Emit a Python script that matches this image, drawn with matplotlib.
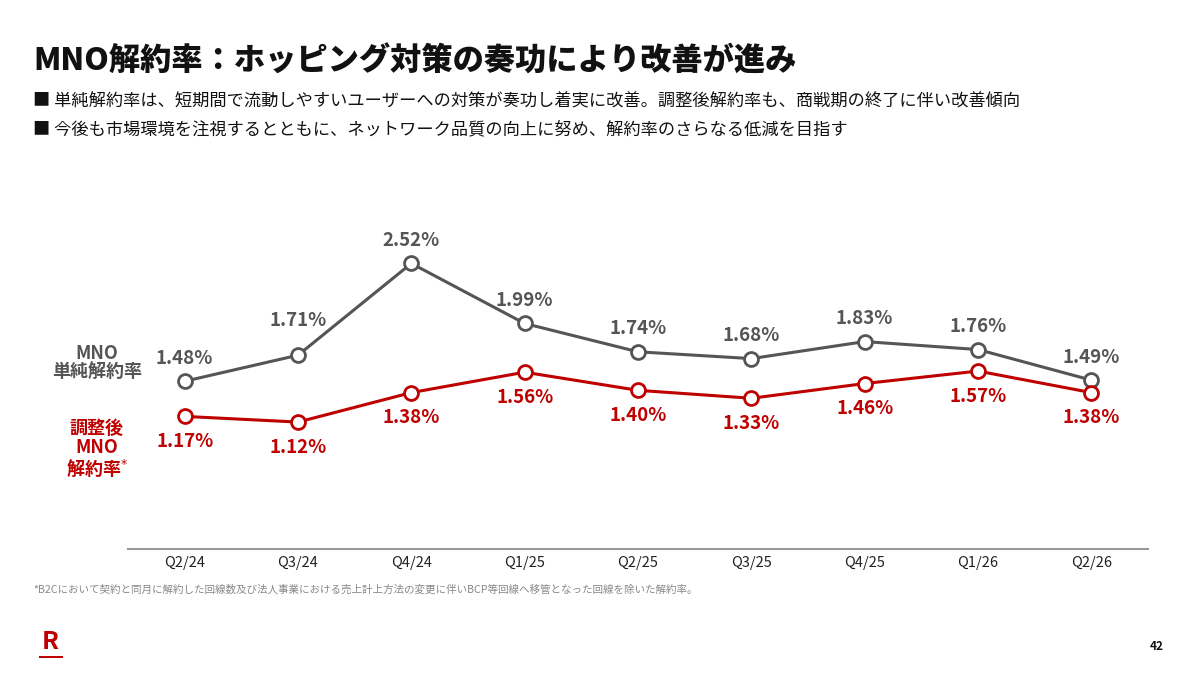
import matplotlib.pyplot as plt
from matplotlib.patches import Rectangle

plt.rcParams['font.family'] = ['Noto Sans CJK JP', 'DejaVu Sans']

# Data
quarters = ['Q2/24', 'Q3/24', 'Q4/24', 'Q1/25', 'Q2/25', 'Q3/25', 'Q4/25', 'Q1/26', 'Q2/26']
simple_rate = [1.48, 1.71, 2.52, 1.99, 1.74, 1.68, 1.83, 1.76, 1.49]
adjusted_rate = [1.17, 1.12, 1.38, 1.56, 1.40, 1.33, 1.46, 1.57, 1.38]

GRAY = '#555555'
RED = '#bf0000'

fig = plt.figure(figsize=(12, 6.75), dpi=100)
fig.patch.set_facecolor('white')

# Title and bullet lines
fig.text(33 / 1200, 1 - 61 / 675, 'MNO解約率：ホッピング対策の奏功により改善が進み',
         fontsize=22.5, fontweight='heavy', color='#111111', va='center', ha='left')
fig.text(33 / 1200, 1 - 101 / 675,
         '■ 単純解約率は、短期間で流動しやすいユーザーへの対策が奏功し着実に改善。調整後解約率も、商戦期の終了に伴い改善傾向',
         fontsize=12.4, color='#111111', va='center', ha='left')
fig.text(33 / 1200, 1 - 129 / 675,
         '■ 今後も市場環境を注視するとともに、ネットワーク品質の向上に努め、解約率のさらなる低減を目指す',
         fontsize=12.4, color='#111111', va='center', ha='left')

# Chart area
ax = fig.add_axes([128 / 1200, (675 - 549) / 675, 1020 / 1200, 340 / 675])
x = list(range(len(quarters)))

ax.plot(x, simple_rate, color=GRAY, lw=2.2, marker='o', markersize=10,
        markerfacecolor='white', markeredgecolor=GRAY, markeredgewidth=2, zorder=3)
ax.plot(x, adjusted_rate, color=RED, lw=2.2, marker='o', markersize=10,
        markerfacecolor='white', markeredgecolor=RED, markeredgewidth=2, zorder=3)

for i, v in enumerate(simple_rate):
    dy = 35 if i == 1 else 23
    ax.annotate(f'{v:.2f}%', (i, v), xytext=(0, dy), textcoords='offset pixels',
                ha='center', va='center', fontsize=13.5, fontweight='bold', color=GRAY)
for i, v in enumerate(adjusted_rate):
    ax.annotate(f'{v:.2f}%', (i, v), xytext=(0, -25), textcoords='offset pixels',
                ha='center', va='center', fontsize=13.5, fontweight='bold', color=RED)

ax.set_xlim(-0.5, 8.5)
ax.set_ylim(0, 3.0)
ax.set_xticks(x)
ax.set_xticklabels(quarters, fontsize=10.5, color='#222222')
ax.tick_params(axis='x', length=0, pad=5)
ax.set_yticks([])
for side in ['top', 'right', 'left']:
    ax.spines[side].set_visible(False)
ax.spines['bottom'].set_color('#999999')
ax.spines['bottom'].set_linewidth(1.5)

# Series labels on the left
fig.text(97 / 1200, 1 - 363 / 675, 'MNO\n単純解約率', fontsize=13, fontweight='bold',
         color=GRAY, ha='center', va='center', linespacing=1.05)
fig.text(97 / 1200, 1 - 449 / 675, '調整後\nMNO\n解約率$^{*}$', fontsize=13, fontweight='bold',
         color=RED, ha='center', va='center', linespacing=1.05)

# Footnote
fig.text(33 / 1200, 1 - 590 / 675,
         '*B2Cにおいて契約と同月に解約した回線数及び法人事業における売上計上方法の変更に伴いBCP等回線へ移管となった回線を除いた解約率。',
         fontsize=7.6, color='#888888', ha='left', va='center')

# Page number and logo
fig.text(1157 / 1200, 1 - 647 / 675, '42', fontsize=8.5, fontweight='bold',
         color='#111111', ha='center', va='center')
fig.text(50 / 1200, 1 - 642 / 675, 'R', fontsize=18, fontweight='bold',
         color=RED, ha='center', va='center')
fig.patches.append(Rectangle((39 / 1200, 1 - 658 / 675), 24 / 1200, 2 / 675,
                             transform=fig.transFigure, color=RED, lw=0))

fig.savefig('out.png', dpi=100)
